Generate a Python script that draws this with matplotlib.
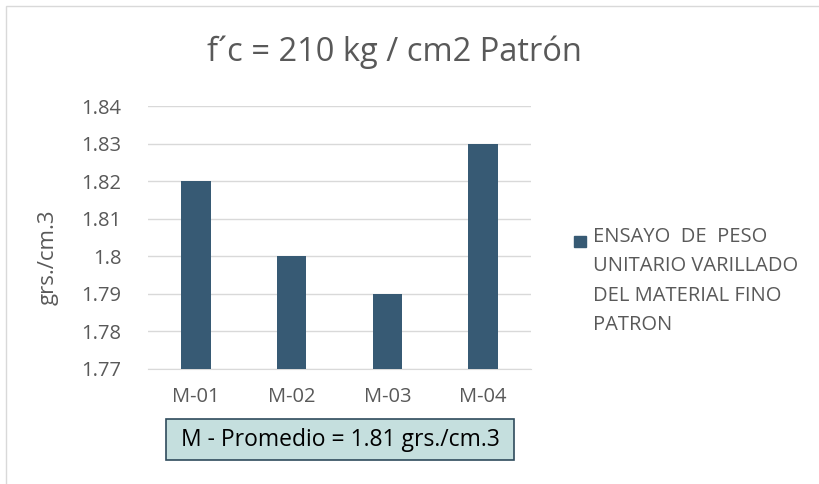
import numpy as np
import matplotlib.pyplot as plt
from matplotlib.patches import Rectangle

categories = ["M-01", "M-02", "M-03", "M-04"]
values = [1.82, 1.80, 1.79, 1.83]
yticks = [1.77, 1.78, 1.79, 1.80, 1.81, 1.82, 1.83, 1.84]
ytick_labels = ["1.77", "1.78", "1.79", "1.8", "1.81", "1.82", "1.83", "1.84"]
series_name = "ENSAYO  DE  PESO\nUNITARIO VARILLADO\nDEL MATERIAL FINO\nPATRON"
title = "f´c = 210 kg / cm2 Patrón"
note = "M - Promedio = 1.81 grs./cm.3"

plt.rcParams['font.family'] = ['Open Sans', 'DejaVu Sans']
bar_color = "#375A74"
grey = "#595959"

fig = plt.figure(figsize=(8.2, 4.84), dpi=100)
W, H = 820, 484
ax = fig.add_axes([148 / W, 1 - 369 / H, 383 / W, 263 / H])

x = np.arange(len(categories))
ax.bar(x, values, width=0.31, color=bar_color, zorder=3)
ax.set_xlim(-0.5, len(categories) - 0.5)
ax.set_ylim(1.77, 1.84)
ax.set_yticks(yticks)
ax.set_yticklabels(ytick_labels)
ax.set_xticks(x)
ax.set_xticklabels(categories)
ax.tick_params(axis='both', length=0, labelsize=14.5, colors=grey)
ax.tick_params(axis='x', pad=13)
ax.tick_params(axis='y', pad=19)
ax.grid(axis='y', color="#D9D9D9", linewidth=1, zorder=0)
for s in ['top', 'right', 'left']:
    ax.spines[s].set_visible(False)
ax.spines['bottom'].set_color("#D9D9D9")

fig.text(48 / W, 1 - 257 / H, "grs./cm.3", rotation=90, ha='center', va='center',
         fontsize=16, color=grey)

fig.text(394 / W, 1 - 52 / H, title, ha='center', va='center', fontsize=23.5, color=grey)

# legend
fig.patches.append(Rectangle((574 / W, 1 - 247 / H), 12 / W, 11 / H,
                             transform=fig.transFigure, color=bar_color))
fig.text(593 / W, 1 - 227 / H, series_name, ha='left', va='top', fontsize=14.5,
         color=grey, linespacing=1.63)

# average box
fig.patches.append(Rectangle((166 / W, 1 - 460 / H), 348 / W, 41 / H, transform=fig.transFigure,
                             facecolor="#C5DFDE", edgecolor="#2F4B5C", linewidth=1.2))
fig.text(340 / W, 1 - 440 / H, note, ha='center', va='center', fontsize=16.5, color='black')

# chart border
fig.patches.append(Rectangle((6 / W, -0.01), 1.0, 1 - 6 / H + 0.01, transform=fig.transFigure,
                             fill=False, edgecolor="#D9D9D9", linewidth=1))

fig.savefig("out.png", dpi=100)
